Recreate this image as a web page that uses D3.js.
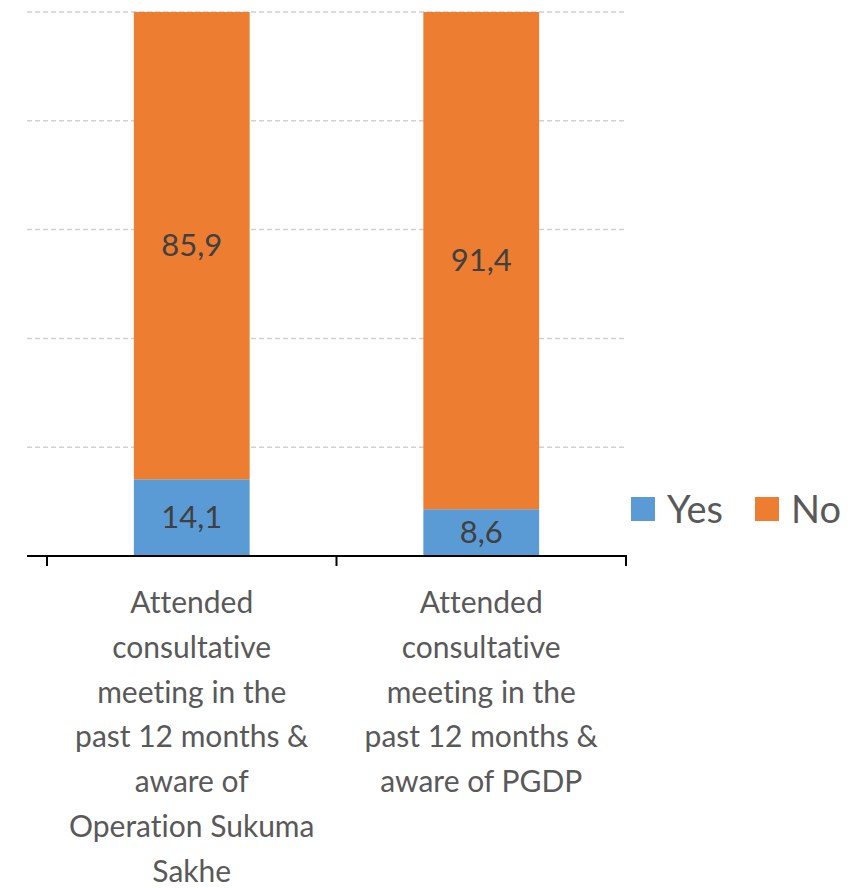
<!DOCTYPE html>
<html>
<head>
<meta charset="utf-8">
<script src="https://cdn.jsdelivr.net/npm/d3@7"></script>
<style>
  body { margin: 0; background: #fff; }
  text { font-family: Lato, "Open Sans", sans-serif; font-variant-ligatures: none; }
</style>
</head>
<body>
<script>
        // chart values
        var categories = ["Operation Sukuma Sakhe", "PGDP"]
        var categoryLines = [
            ["Attended", "consultative", "meeting in the", "past 12 months &", "aware of", "Operation Sukuma", "Sakhe"],
            ["Attended", "consultative", "meeting in the", "past 12 months &", "aware of PGDP"]
        ]
        var series = ["Yes", "No"]
        var yesValues = [14.1, 8.6]
        var noValues = [85.9, 91.4]
        var gridTicks = [20, 40, 60, 80, 100]
        var colors = {"Yes": "#5B9BD5", "No": "#ED7D31"}

        var width = 862
        var height = 888

        var svg = d3.select("body")
            .append("svg")
            .attr("width", width)
            .attr("height", height)

        var y = d3.scaleLinear().domain([0, 100]).range([556, 12])
        var x = d3.scaleBand()
            .domain(categories)
            .range([47, 626])
            .paddingInner(0.6)
            .paddingOuter(0.3)

        // dashed gridlines
        svg.selectAll(".grid")
            .data(gridTicks)
            .enter()
            .append("line")
            .attr("x1", 27)
            .attr("x2", 627)
            .attr("y1", function(d){ return y(d) })
            .attr("y2", function(d){ return y(d) })
            .attr("stroke", "#d0d0d0")
            .attr("stroke-width", 1.5)
            .attr("stroke-dasharray", "5,3")

        // stack the two series
        var rows = categories.map(function(c, i){
            return {cat: c, Yes: yesValues[i], No: noValues[i]}
        })
        var stacked = d3.stack().keys(series)(rows)

        var layer = svg.selectAll(".layer")
            .data(stacked)
            .enter()
            .append("g")
            .attr("fill", function(d){ return colors[d.key] })

        layer.selectAll("rect")
            .data(function(d){ return d })
            .enter()
            .append("rect")
            .attr("x", function(d){ return x(d.data.cat) })
            .attr("width", x.bandwidth())
            .attr("y", function(d){ return y(d[1]) })
            .attr("height", function(d){ return y(d[0]) - y(d[1]) })

        // value labels
        layer.selectAll("text")
            .data(function(d){ return d.map(function(v){ return {v: v, key: d.key} }) })
            .enter()
            .append("text")
            .attr("x", function(d){ return x(d.v.data.cat) + x.bandwidth()/2 })
            .attr("y", function(d){ return y((d.v[0] + d.v[1]) / 2) })
            .attr("dy", "0.35em")
            .attr("text-anchor", "middle")
            .attr("font-size", 31)
            .attr("fill", "#404040")
            .text(function(d){ return d3.format(".1f")(d.v.data[d.key]).replace(".", ",") })

        // x axis line and ticks on band boundaries
        svg.append("line")
            .attr("x1", 27).attr("x2", 627)
            .attr("y1", 556).attr("y2", 556)
            .attr("stroke", "#000").attr("stroke-width", 2)

        var step = x.step()
        var bounds = [47, 47 + step, 626]
        svg.selectAll(".tick")
            .data(bounds)
            .enter()
            .append("line")
            .attr("x1", function(d){ return d }).attr("x2", function(d){ return d })
            .attr("y1", 556).attr("y2", 566)
            .attr("stroke", "#000").attr("stroke-width", 2)

        // category labels
        svg.selectAll(".catlabel")
            .data(categories)
            .enter()
            .append("text")
            .attr("text-anchor", "middle")
            .attr("font-size", 30)
            .attr("fill", "#595959")
            .each(function(d, i){
                var t = d3.select(this)
                categoryLines[i].forEach(function(line, j){
                    t.append("tspan")
                        .attr("x", x(d) + x.bandwidth()/2)
                        .attr("y", 613 + j * 44.8)
                        .text(line)
                })
            })

        // legend
        var legendX = [631, 755]
        var legend = svg.selectAll(".legend")
            .data(series)
            .enter()
            .append("g")
            .attr("transform", function(d, i){ return "translate(" + legendX[i] + ",497)" })

        legend.append("rect")
            .attr("width", 24).attr("height", 24)
            .attr("fill", function(d){ return colors[d] })

        legend.append("text")
            .attr("x", 36)
            .attr("y", 26)
            .attr("font-size", 38)
            .attr("fill", "#595959")
            .text(function(d){ return d })
</script>
</body>
</html>
